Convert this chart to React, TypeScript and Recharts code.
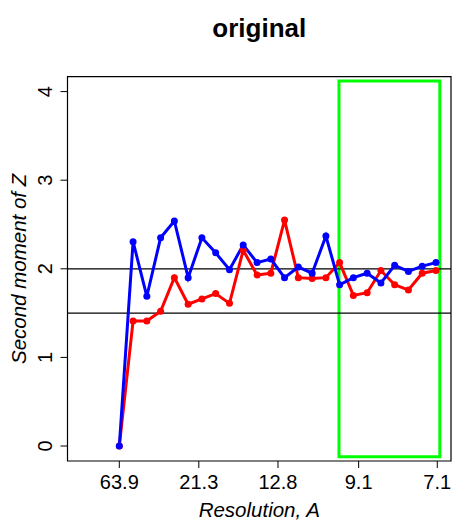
import React from 'react';
import { LineChart, Line, XAxis, YAxis, ReferenceLine, ReferenceArea } from 'recharts';

// Resolution (Å) of each shell, and the two series of second moments of Z
const resolution = [63.9, 47.46, 37.75, 31.34, 26.79, 23.39, 20.76, 18.66, 16.94, 15.52, 14.31, 13.28, 12.39, 11.61, 10.92, 10.31, 9.767, 9.276, 8.832, 8.428, 8.06, 7.723, 7.412, 7.126];
const redSeries = [0, 1.41, 1.41, 1.52, 1.9, 1.6, 1.66, 1.72, 1.61, 2.21, 1.93, 1.95, 2.55, 1.9, 1.89, 1.9, 2.07, 1.7, 1.73, 1.98, 1.82, 1.76, 1.95, 1.98];
const blueSeries = [0, 2.306, 1.69, 2.35, 2.54, 1.9, 2.35, 2.18, 1.99, 2.27, 2.07, 2.11, 1.9, 2.02, 1.95, 2.37, 1.82, 1.9, 1.95, 1.84, 2.04, 1.97, 2.03, 2.07];

const xTickResolution = [63.9, 21.3, 12.8, 9.1, 7.1];
const xTickLabels = ['63.9', '21.3', '12.8', '9.1', '7.1'];
const yTicks = [0, 1, 2, 3, 4];
const refLines = [2, 1.5];

// highlighted resolution range (Å) and its vertical extent
const boxResolution = [9.79, 7.05];
const boxY = [-0.12, 4.12];

const xDomain = [-0.00475, 0.14625];
const yDomain = [-0.169, 4.168];

const data = resolution.map((d, i) => ({ s: 1 / d, red: redSeries[i], blue: blueSeries[i] }));

const FONT = '"Liberation Sans", Arial, Helvetica, sans-serif';

const YTick = (props: any) => {
  const { y, payload } = props;
  const cx = 45.5;
  return (
    <text x={cx} y={y} transform={`rotate(-90, ${cx}, ${y})`} textAnchor="middle" dominantBaseline="central" fontSize={20} fontFamily={FONT} fill="#000">
      {payload.value}
    </text>
  );
};

export default function App() {
  const W = 454;
  const H = 520;
  return (
    <div style={{ position: 'relative', width: W, height: H }}>
      <style>{`body { margin: 0; }`}</style>
      <LineChart width={W} height={H} data={data} margin={{ top: 76.7, right: 3, bottom: 0, left: 0 }}>
        <XAxis
          type="number"
          dataKey="s"
          domain={xDomain}
          allowDataOverflow
          ticks={xTickResolution.map((d) => 1 / d)}
          tickFormatter={(_v: any, i: number) => xTickLabels[i]}
          axisLine={false}
          tickLine={{ stroke: '#000', strokeWidth: 1 }}
          tickSize={7}
          tickMargin={7}
          height={59}
          tick={{ fill: '#000', fontSize: 20, fontFamily: FONT }}
          interval={0}
        />
        <YAxis
          type="number"
          domain={yDomain}
          allowDataOverflow
          ticks={yTicks}
          axisLine={false}
          tickLine={{ stroke: '#000', strokeWidth: 1 }}
          tickSize={7}
          width={67.5}
          tick={<YTick />}
          interval={0}
        />
        <ReferenceArea x1={xDomain[0]} x2={xDomain[1]} y1={yDomain[0]} y2={yDomain[1]} fill="none" stroke="#000" strokeWidth={1.2} ifOverflow="visible" />
        {refLines.map((v) => (
          <ReferenceLine key={v} y={v} stroke="#000" strokeWidth={1.2} />
        ))}
        <Line dataKey="red" stroke="#FF0000" strokeWidth={3} dot={{ r: 3.5, fill: '#FF0000', stroke: 'none' }} isAnimationActive={false} />
        <Line dataKey="blue" stroke="#0000FF" strokeWidth={3} dot={{ r: 3.5, fill: '#0000FF', stroke: 'none' }} isAnimationActive={false} />
        <ReferenceArea
          x1={1 / boxResolution[0]}
          x2={1 / boxResolution[1]}
          y1={boxY[0]}
          y2={boxY[1]}
          fill="none"
          stroke="#00FF00"
          strokeWidth={3}
          ifOverflow="visible"
        />
      </LineChart>
      <svg width={W} height={H} style={{ position: 'absolute', left: 0, top: 0, pointerEvents: 'none' }}>
        <text x={259.25} y={36.7} textAnchor="middle" fontSize={26} fontWeight="bold" fontFamily={FONT} fill="#000">
          original
        </text>
        <text x={259.25} y={517} textAnchor="middle" fontSize={20.5} fontStyle="italic" fontFamily={FONT} fill="#000">
          Resolution, A
        </text>
        <text x={26} y={268.9} transform="rotate(-90, 26, 268.9)" textAnchor="middle" fontSize={20.5} fontStyle="italic" fontFamily={FONT} fill="#000">
          Second moment of Z
        </text>
      </svg>
    </div>
  );
}
